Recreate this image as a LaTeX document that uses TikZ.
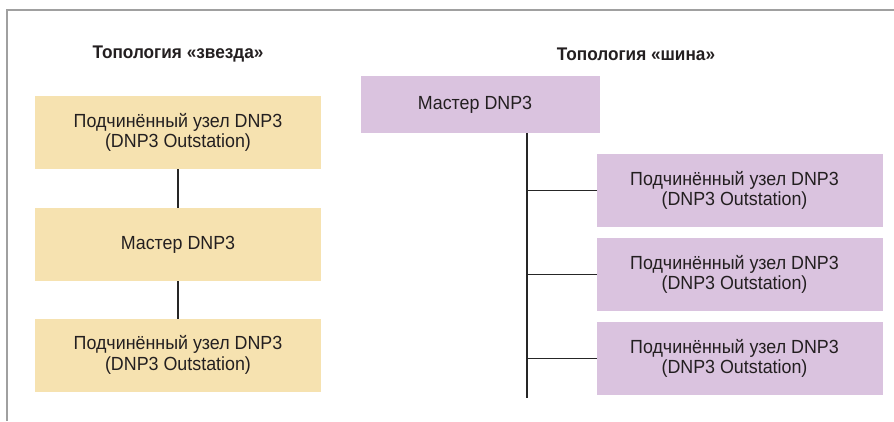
\documentclass[tikz,border=0pt]{standalone}
\usepackage{fontspec}
\setmainfont{Liberation Sans}[FakeStretch=0.94]
\definecolor{starfill}{RGB}{246,226,176}
\definecolor{busfill}{RGB}{218,195,223}
\definecolor{txt}{RGB}{35,31,32}
\definecolor{framegray}{RGB}{160,160,160}
\newcommand{\lsh}{\hspace*{11pt}}
\begin{document}
\begin{tikzpicture}[x=1pt,y=-1pt,
  box/.style={inner sep=0pt, outer sep=0pt, text=txt, align=center,
     font=\fontsize{19}{20.5}\selectfont},
  starbox/.style={box, fill=starfill, minimum width=286pt, minimum height=73pt},
  busbox/.style={box, fill=busfill, minimum width=286pt, minimum height=73pt},
  conn/.style={draw=black!85, line width=1.2pt},
  ttl/.style={text=txt, font=\fontsize{18.3}{19}\selectfont\bfseries}]
\useasboundingbox (0,0) rectangle (894,421);
\draw[framegray, line width=1.5pt] (7,421) -- (7,10) -- (894,10);
% star topology
\node[ttl] (t1) at (178,54) {Топология «звезда»};
\node[starbox] (s1) at (178,132.5) {Подчинённый узел DNP3\\(DNP3 Outstation)};
\node[starbox] (sm) at (178,244.5) {Мастер DNP3};
\node[starbox] (s3) at (178,355) {Подчинённый узел DNP3\\(DNP3 Outstation)};
\draw[conn] (s1.south) -- (sm.north);
\draw[conn] (sm.south) -- (s3.north);
% bus topology
\node[ttl] (t2) at (636,54) {Топология «шина»};
\node[busbox, minimum width=239pt, minimum height=57pt] (bm) at (480.5,104.5) {Мастер DNP3\lsh};
\node[busbox] (b1) at (740,190.5) {Подчинённый узел DNP3\lsh\\(DNP3 Outstation)\lsh};
\node[busbox] (b2) at (740,274.5) {Подчинённый узел DNP3\lsh\\(DNP3 Outstation)\lsh};
\node[busbox] (b3) at (740,358.5) {Подчинённый узел DNP3\lsh\\(DNP3 Outstation)\lsh};
\coordinate (busend) at (527,398);
\draw[conn] (bm.south -| busend) -- (busend);
\draw[conn] (b1.west) -- (b1.west -| busend);
\draw[conn] (b2.west) -- (b2.west -| busend);
\draw[conn] (b3.west) -- (b3.west -| busend);
\end{tikzpicture}
\end{document}
